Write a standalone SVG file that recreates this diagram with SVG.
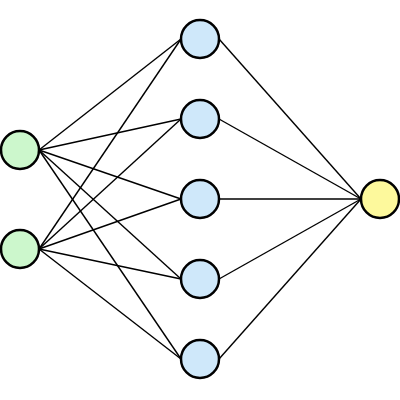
<svg xmlns="http://www.w3.org/2000/svg" width="400" height="400" viewBox="0 0 400 400">
<style>
.e{stroke:#000;stroke-width:1.4;fill:none}
.n{stroke:#000;stroke-width:2.5}
.in{fill:#ccf7cc}
.hid{fill:#cfe8fa}
.out{fill:#fdf99c}
</style>
<rect width="400" height="400" fill="#fff"/>
<g id="connectors">
<line class="e" x1="39" y1="150" x2="181" y2="39"/>
<line class="e" x1="39" y1="150" x2="181" y2="119"/>
<line class="e" x1="39" y1="150" x2="181" y2="199"/>
<line class="e" x1="39" y1="150" x2="181" y2="279"/>
<line class="e" x1="39" y1="150" x2="181" y2="359"/>
<line class="e" x1="39" y1="249" x2="181" y2="39"/>
<line class="e" x1="39" y1="249" x2="181" y2="119"/>
<line class="e" x1="39" y1="249" x2="181" y2="199"/>
<line class="e" x1="39" y1="249" x2="181" y2="279"/>
<line class="e" x1="39" y1="249" x2="181" y2="359"/>
<line class="e" x1="219" y1="39" x2="361" y2="199"/>
<line class="e" x1="219" y1="119" x2="361" y2="199"/>
<line class="e" x1="219" y1="199" x2="361" y2="199"/>
<line class="e" x1="219" y1="279" x2="361" y2="199"/>
<line class="e" x1="219" y1="359" x2="361" y2="199"/>
</g>
<g id="i1"><circle class="n in" cx="20" cy="150" r="19"/></g>
<g id="i2"><circle class="n in" cx="20" cy="249" r="19"/></g>
<g id="h1"><circle class="n hid" cx="200" cy="39" r="19"/></g>
<g id="h2"><circle class="n hid" cx="200" cy="119" r="19"/></g>
<g id="h3"><circle class="n hid" cx="200" cy="199" r="19"/></g>
<g id="h4"><circle class="n hid" cx="200" cy="279" r="19"/></g>
<g id="h5"><circle class="n hid" cx="200" cy="359" r="19"/></g>
<g id="o1"><circle class="n out" cx="380" cy="199" r="19"/></g>
</svg>
